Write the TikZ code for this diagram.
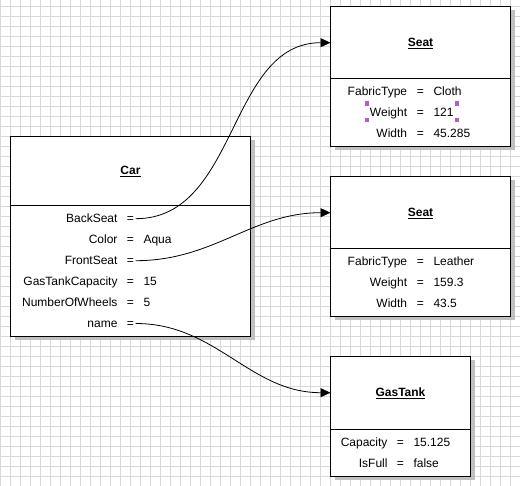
\documentclass[tikz,border=0pt]{standalone}
\usepackage{fontspec}
\setmainfont{Liberation Sans}
\usetikzlibrary{arrows.meta,shadows}
\definecolor{gridc}{RGB}{216,216,216}
\definecolor{shadowc}{RGB}{192,192,192}
\definecolor{handlec}{RGB}{180,95,195}
\newcommand{\attrrow}[7]{%
  \node[lbl, anchor=east] (#1n) at (#2,#5) {#6};
  \node[lbl, anchor=center] (#1e) at (#3,#5) {=};
  \node[lbl, anchor=west] (#1v) at (#4,#5) {#7};
}
\newcommand{\attrnoval}[5]{%
  \node[lbl, anchor=east] (#1n) at (#2,#5) {#4};
  \node[lbl, anchor=center] (#1e) at (#3,#5) {=};
}
\begin{document}
\begin{tikzpicture}[x=1pt,y=-1pt,
  lbl/.style={font=\fontsize{12}{14}\selectfont, inner sep=0pt, text height=8.6pt, text depth=0pt},
  ttl/.style={lbl, font=\fontsize{12}{14}\selectfont\bfseries},
  objbox/.style={draw, line width=1pt, fill=white, anchor=north west, inner sep=0pt, outer sep=0pt,
    drop shadow={shadow xshift=4pt, shadow yshift=-4pt, fill=shadowc, opacity=1}},
  divider/.style={line width=1pt},
  conn/.style={line width=0.8pt, -{Triangle[length=10pt,width=9pt]}},
  handle/.style={fill=handlec}
]
\useasboundingbox (0,0) rectangle (520,486);
\fill[white] (0,0) rectangle (520,486);
% grid
\foreach \gx in {0,10,...,510} \draw[gridc, line width=1pt] (\gx+0.5,0) -- (\gx+0.5,486);
\foreach \gy in {6,16,...,476} \draw[gridc, line width=1pt] (0,\gy+0.5) -- (520,\gy+0.5);

% boxes
\node[objbox, minimum width=240pt, minimum height=200pt] (car) at (10.5,136.5) {};
\node[objbox, minimum width=180pt, minimum height=140pt] (seatA) at (330.5,6.5) {};
\node[objbox, minimum width=180pt, minimum height=140pt] (seatB) at (330.5,176.5) {};
\node[objbox, minimum width=140pt, minimum height=120pt] (tank) at (330.5,356.5) {};

% dividers
\draw[divider] (car.west |- 0,205.5) -- (car.east |- 0,205.5);
\draw[divider] (seatA.west |- 0,78.5) -- (seatA.east |- 0,78.5);
\draw[divider] (seatB.west |- 0,248.5) -- (seatB.east |- 0,248.5);
\draw[divider] (tank.west |- 0,429.5) -- (tank.east |- 0,429.5);

% titles
\node[ttl] (carT) at (130.5,170.7) {\underline{Car}};
\node[ttl] (seatAT) at (420.5,42.7) {\underline{Seat}};
\node[ttl] (seatBT) at (420.5,212.7) {\underline{Seat}};
\node[ttl] (tankT) at (400.5,392.7) {\underline{GasTank}};

% Car attributes
\attrnoval{cBack}{117.7}{130.5}{BackSeat}{218.7}
\attrrow{cColor}{117.7}{130.5}{143.3}{239.7}{Color}{Aqua}
\attrnoval{cFront}{117.7}{130.5}{FrontSeat}{260.7}
\attrrow{cGas}{117.7}{130.5}{143.3}{281.7}{GasTankCapacity}{15}
\attrrow{cWheels}{117.7}{130.5}{143.3}{302.7}{NumberOfWheels}{5}
\attrnoval{cName}{117.7}{130.5}{name}{323.5}

% Seat A attributes
\attrrow{aFab}{407.3}{420.5}{433.3}{91.7}{FabricType}{Cloth}
\attrrow{aWeight}{407.3}{420.5}{433.3}{112.7}{Weight}{121}
\attrrow{aWidth}{407.3}{420.5}{433.3}{133.5}{Width}{45.285}

% Seat B attributes
\attrrow{bFab}{407.3}{420.5}{433.3}{261.7}{FabricType}{Leather}
\attrrow{bWeight}{407.3}{420.5}{433.3}{282.7}{Weight}{159.3}
\attrrow{bWidth}{407.3}{420.5}{433.3}{303.5}{Width}{43.5}

% GasTank attributes
\attrrow{tCap}{387.7}{400.5}{413.3}{442.3}{Capacity}{15.125}
\attrrow{tFull}{387.7}{400.5}{413.3}{463.5}{IsFull}{false}

% selection handles
\fill[handle] (364.5,101.5) rectangle (369,106);
\fill[handle] (364.5,118) rectangle (369,122.5);
\fill[handle] (454.5,101.5) rectangle (459,106);
\fill[handle] (454.5,118) rectangle (459,122.5);

% connectors
\draw[conn] ([xshift=1.5pt]cBacke.east) to[out=0,in=180] (seatA.west |- seatAT);
\draw[conn] ([xshift=1.5pt]cFronte.east) to[out=0,in=180] (seatB.west |- seatBT);
\draw[conn] ([xshift=1.5pt]cNamee.east) to[out=0,in=180] (tank.west |- tankT);
\end{tikzpicture}
\end{document}
